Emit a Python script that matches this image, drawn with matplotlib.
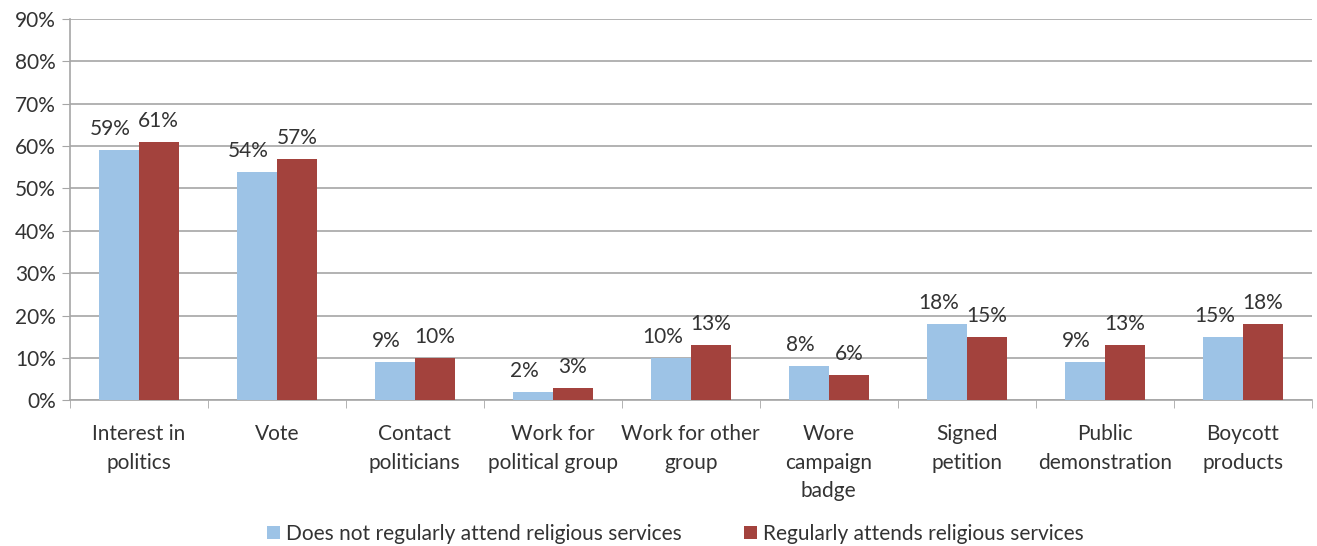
import numpy as np
import matplotlib.pyplot as plt
from matplotlib.ticker import FuncFormatter, FixedLocator

plt.rcParams['font.family'] = ['Lato', 'DejaVu Sans']

categories = ['Interest in\npolitics', 'Vote', 'Contact\npoliticians',
              'Work for\npolitical group', 'Work for other\ngroup',
              'Wore\ncampaign\nbadge', 'Signed\npetition',
              'Public\ndemonstration', 'Boycott\nproducts']
not_regular = [59, 54, 9, 2, 10, 8, 18, 9, 15]
regular = [61, 57, 10, 3, 13, 6, 15, 13, 18]
series_names = ['Does not regularly attend religious services',
                'Regularly attends religious services']

blue = '#9DC3E6'
red = '#A3423D'
txt = '#333333'

fig = plt.figure(figsize=(13.17, 5.46), dpi=100)
ax = fig.add_axes([0.053, 0.267, 0.943, 0.698])

x = np.arange(len(categories))
w = 0.29
b1 = ax.bar(x - w / 2, not_regular, w, color=blue, label=series_names[0], zorder=3)
b2 = ax.bar(x + w / 2, regular, w, color=red, label=series_names[1], zorder=3)

for bars, vals, dx in [(b1, not_regular, -0.06), (b2, regular, 0.0)]:
    for rect, v in zip(bars, vals):
        ax.text(rect.get_x() + rect.get_width() / 2 + dx, v + 2.6, f'{v}%',
                ha='center', va='bottom', fontsize=15, color=txt)

ax.set_xlim(-0.5, len(categories) - 0.5)
ax.set_ylim(0, 90)
ax.set_yticks(np.arange(0, 91, 10))
ax.yaxis.set_major_formatter(FuncFormatter(lambda v, p: f'{int(v)}%'))
ax.grid(axis='y', color='#a6a6a6', linewidth=1.2, zorder=0)

ax.set_xticks(x)
ax.set_xticklabels(categories, fontsize=15, color=txt, linespacing=1.55)
ax.xaxis.set_minor_locator(FixedLocator(np.arange(-0.5, len(categories), 1)))
ax.tick_params(axis='x', which='major', length=0, pad=17)
ax.tick_params(axis='x', which='minor', length=6, color='#a6a6a6')
ax.tick_params(axis='y', length=6, color='#a6a6a6', labelsize=15, labelcolor=txt, pad=4)

for s in ['top', 'right']:
    ax.spines[s].set_visible(False)
for s in ['left', 'bottom']:
    ax.spines[s].set_color('#a6a6a6')
    ax.spines[s].set_linewidth(1.2)

fig.legend(loc='lower center', bbox_to_anchor=(0.513, -0.031), ncol=2, frameon=False,
           fontsize=15, handlelength=0.6, handleheight=0.6, handletextpad=0.3,
           columnspacing=3.0, labelcolor=txt)

fig.savefig('out.png', dpi=100)
